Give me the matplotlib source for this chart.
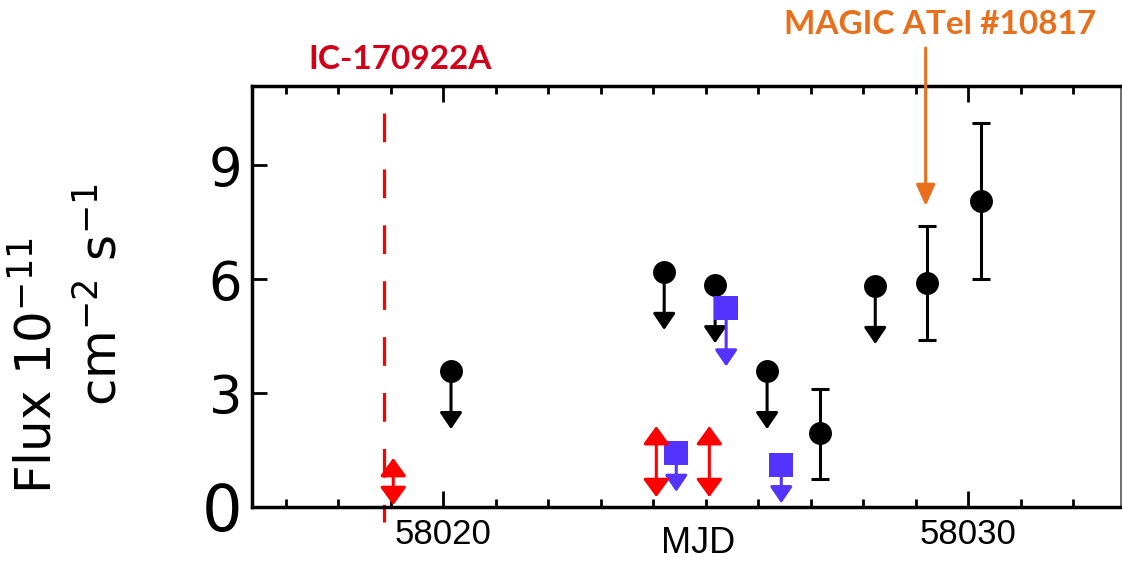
import matplotlib
matplotlib.use('Agg')
import matplotlib.pyplot as plt
import numpy as np
from matplotlib.ticker import MultipleLocator

# ---------------- data ----------------
black_mjd = [58020.15, 58024.21, 58025.18, 58026.17, 58027.18, 58028.23, 58029.22, 58030.25]
black_flux = [3.58, 6.19, 5.84, 3.58, 1.94, 5.82, 5.90, 8.05]
black_is_ul = [True, True, True, True, False, True, False, False]
black_err_lo = [0, 0, 0, 0, 1.20, 0, 1.51, 2.05]
black_err_hi = [0, 0, 0, 0, 1.16, 0, 1.50, 2.05]
black_ul_len = [1.53, 1.53, 1.53, 1.53, 0, 1.53, 0, 0]

blue_mjd = [58024.44, 58025.39, 58026.44]
blue_flux = [1.41, 5.23, 1.10]
blue_ul_len = [1.01, 1.53, 1.00]

red_mjd = [58019.05, 58024.06, 58025.07]
red_lo = [0.05, 0.26, 0.26]
red_hi = [1.29, 2.13, 2.13]

ic_mjd = 58018.87
ic_label = 'IC-170922A'
magic_mjd = 58029.19
magic_label = 'MAGIC ATel #10817'

yticks = [0, 3, 6, 9]
ytick_labels = ['0', '3', '6', '9']
xticks = [58020, 58030]
xtick_labels = ['58020', '58030']

# ---------------- style ----------------
RED = '#FF0000'
BLUE = '#5533FF'
ICRED = '#D4001A'
ORANGE = '#E8701C'

W, H = 1122, 562
fig = plt.figure(figsize=(W / 100, H / 100), dpi=100)
ax = fig.add_axes([252 / W, (H - 507) / H, (1121 - 252) / W, (507 - 86) / H])
ax.set_xlim(58016.36, 58032.91)
ax.set_ylim(0, 11.08)

# IceCube line
ax.plot([ic_mjd, ic_mjd], [10.37, -0.39], color=RED, lw=2.3,
        ls=(0, (9, 8.5)), clip_on=False, zorder=2)

# black detections with error bars
bm = np.array(black_mjd)
bf = np.array(black_flux)
ul = np.array(black_is_ul)
det = ~ul
ax.errorbar(bm[det], bf[det],
            yerr=[np.array(black_err_lo)[det], np.array(black_err_hi)[det]],
            fmt='none', ecolor='black', elinewidth=2.2, capsize=6.5,
            capthick=2.2, zorder=3)

UL_STYLE = '-|>,head_length=1.0,head_width=0.68'

# black upper limits arrows
for x, y, L, u in zip(black_mjd, black_flux, black_ul_len, black_is_ul):
    if u:
        ax.annotate('', xy=(x, y - L), xytext=(x, y),
                    arrowprops=dict(arrowstyle=UL_STYLE,
                                    color='black', lw=2.2, shrinkA=0, shrinkB=0),
                    zorder=3)
ax.plot(black_mjd, black_flux, 'o', color='black', ms=16.5, mew=0, zorder=4)

# blue upper limits
for x, y, L in zip(blue_mjd, blue_flux, blue_ul_len):
    ax.annotate('', xy=(x, y - L), xytext=(x, y),
                arrowprops=dict(arrowstyle=UL_STYLE,
                                color=BLUE, lw=2.2, shrinkA=0, shrinkB=0),
                zorder=5)
ax.plot(blue_mjd, blue_flux, 's', color=BLUE, ms=17, mew=0, zorder=5)

# red double arrows
for x, lo, hi in zip(red_mjd, red_lo, red_hi):
    ax.annotate('', xy=(x, hi), xytext=(x, lo),
                arrowprops=dict(arrowstyle='<|-|>,head_length=1.1,head_width=0.8',
                                color=RED, lw=2.2, shrinkA=0, shrinkB=0),
                zorder=6)

# MAGIC arrow
ax.annotate('', xy=(magic_mjd, 7.92), xytext=(magic_mjd, 12.08),
            arrowprops=dict(arrowstyle='-|>,head_length=1.3,head_width=0.58',
                            color=ORANGE, lw=2.2, shrinkA=0, shrinkB=0),
            annotation_clip=False, zorder=6)

# ticks
ax.set_yticks(yticks, labels=ytick_labels)
ax.set_xticks(xticks, labels=xtick_labels)
ax.xaxis.set_minor_locator(MultipleLocator(1))
ax.tick_params(axis='y', which='both', direction='in', length=11, width=2,
               pad=7, labelsize=38, left=True, right=False)
ax.tick_params(axis='x', which='major', direction='in', length=11.5, width=2,
               pad=8, labelsize=25, top=True, bottom=True)
ax.tick_params(axis='x', which='minor', direction='in', length=5.5, width=2,
               top=True, bottom=True)
for lbl in ax.get_xticklabels():
    lbl.set_family('Liberation Sans')
for lbl in ax.get_yticklabels():
    lbl.set_family('DejaVu Sans')
    if lbl.get_text() == '0':
        lbl.set_fontsize(46)

for s in ['left', 'top', 'bottom']:
    ax.spines[s].set_linewidth(2.5)
ax.spines['right'].set_linewidth(1.2)
ax.spines['right'].set_color('#555555')

# labels
fig.text(36.5 / W, 1 - 366 / H, r'Flux $10^{-11}$', rotation=90,
         ha='center', va='center', fontsize=36, family='DejaVu Sans')
fig.text(101.5 / W, 1 - 295 / H, r'cm$^{-2}$ s$^{-1}$', rotation=90,
         ha='center', va='center', fontsize=36, family='DejaVu Sans')
fig.text(698 / W, 1 - 553 / H, 'MJD', ha='center', va='baseline',
         fontsize=26, family='Liberation Sans')
fig.text(400 / W, 1 - 69 / H, ic_label, ha='center', va='baseline',
         fontsize=24, fontweight='bold', family='Lato', color=ICRED)
fig.text(940 / W, 1 - 34 / H, magic_label, ha='center', va='baseline',
         fontsize=24, fontweight='bold', family='Lato', color=ORANGE)

fig.savefig('out.png', dpi=100)
